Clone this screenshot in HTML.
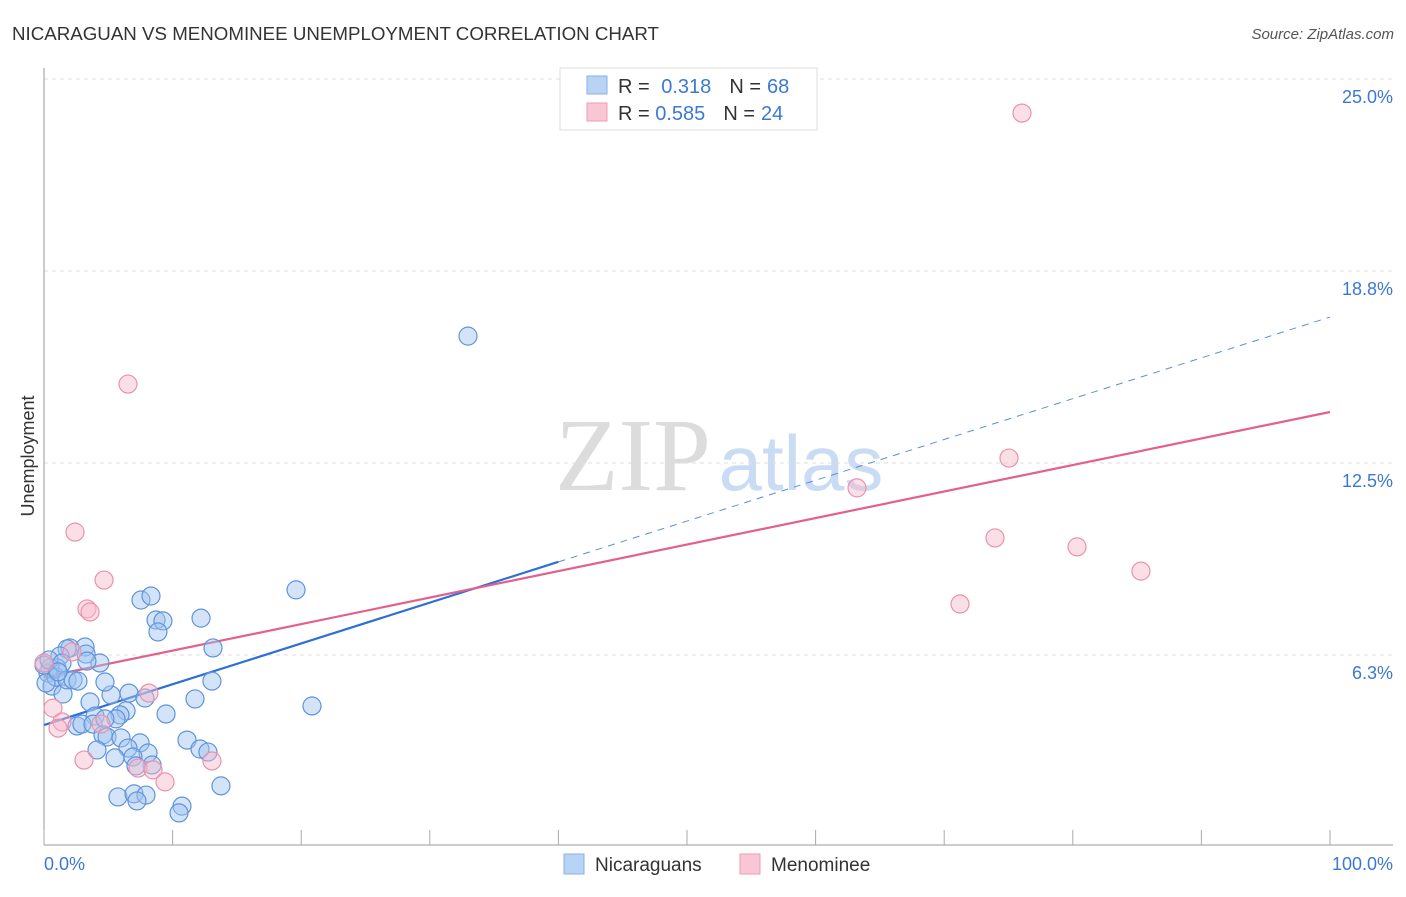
<!DOCTYPE html>
<html><head><meta charset="utf-8"><style>
body{margin:0;background:#fff;font-family:"Liberation Sans",sans-serif;}
</style></head><body>
<svg width="1406" height="892" xmlns="http://www.w3.org/2000/svg" id="chart">
<text x="12" y="40" font-size="18" fill="#333" textLength="647" lengthAdjust="spacingAndGlyphs">NICARAGUAN VS MENOMINEE UNEMPLOYMENT CORRELATION CHART</text>
<text x="1394" y="39" font-size="15" fill="#555" font-style="italic" text-anchor="end">Source: ZipAtlas.com</text>
<g>
<text x="633" y="490" font-size="104" font-family="Liberation Serif,serif" fill="#dcdcdc" text-anchor="middle">ZIP</text>
<text x="801" y="490" font-size="78" fill="#c9dcf3" text-anchor="middle">atlas</text>
</g>
<g id="grid"></g>
<g id="axes"></g>
<g id="lines"></g>
<g id="points"></g>
<text transform="translate(34,456) rotate(-90)" font-size="18" fill="#333" text-anchor="middle">Unemployment</text>
<g>
<rect x="560" y="68" width="257" height="62" fill="#fff" stroke="#ddd"/>
<rect x="587" y="76" width="20" height="18" fill="#b8d3f5" stroke="#8ab0e6"/>
<rect x="587" y="103" width="20" height="18" fill="#f9c6d5" stroke="#ec9cb6"/>
<text x="618" y="93" font-size="20" fill="#333">R = <tspan fill="#3b78d6" dx="6">0.318</tspan><tspan dx="18" fill="#333">N =</tspan><tspan dx="6" fill="#3b78d6">68</tspan></text>
<text x="618" y="120" font-size="20" fill="#333">R = <tspan fill="#3b78d6">0.585</tspan><tspan dx="18" fill="#333">N =</tspan><tspan dx="6" fill="#3b78d6">24</tspan></text>
</g>
<g>
<rect x="564" y="854" width="20" height="20" fill="#b8d3f5" stroke="#8ab0e6"/>
<text x="595" y="871" font-size="19" fill="#333">Nicaraguans</text>
<rect x="740" y="854" width="20" height="20" fill="#f9c6d5" stroke="#ec9cb6"/>
<text x="771" y="871" font-size="19" fill="#333">Menominee</text>
</g>
</svg>
<script>
const yTicks=[6.25,12.5,18.75,25];
const yTickLabels=["6.3%","12.5%","18.8%","25.0%"];
const xTickLabels=["0.0%","100.0%"];
const nicX=[32.97,19.6,20.84,12.21,13.14,13.06,11.74,9.49,11.12,12.13,12.75,13.76,10.73,10.5,7.54,8.32,8.71,9.25,8.86,6.61,7.85,6.38,5.91,5.6,5.21,4.74,4.35,3.19,3.27,2.02,1.79,3.34,1.24,1.01,0.47,0.31,0.62,0.93,1.48,1.79,2.26,2.64,3.58,3.97,2.57,2.95,3.81,4.74,4.59,4.9,5.99,7.47,8.09,6.53,4.12,5.52,6.92,8.4,7.15,5.75,7.0,7.93,7.23,0.16,0,0.39,1.4,1.09];
const nicY=[16.63,8.37,4.59,7.45,6.48,5.4,4.82,4.33,3.48,3.19,3.09,1.99,1.33,1.11,8.04,8.17,7.39,7.36,7.0,5.01,4.85,4.43,4.3,4.17,4.95,5.37,5.99,6.51,6.28,6.48,6.45,6.05,6.22,5.83,5.83,5.66,5.24,5.53,4.98,5.44,5.44,5.4,4.72,4.26,3.94,4.0,4.0,4.17,3.65,3.58,3.55,3.39,3.06,3.22,3.16,2.9,2.93,2.67,2.64,1.63,1.73,1.69,1.5,5.34,5.92,6.09,5.99,5.7];
const menX=[76.05,6.53,2.41,4.67,3.34,3.58,63.22,75.04,73.95,80.33,85.3,71.23,0,2.18,8.16,0.7,1.4,1.09,4.43,3.11,7.31,8.48,9.41,13.06];
const menY=[23.89,15.07,10.25,8.69,7.75,7.65,11.69,12.66,10.06,9.77,8.98,7.91,5.99,6.35,5.01,4.52,4.07,3.87,4.0,2.83,2.57,2.51,2.12,2.8];
const nicLine=[3.97,0.1328]; // intercept, slope
const menLine=[5.53,0.0863];
const nicSolidEnd=40;
const ns="http://www.w3.org/2000/svg";
const X=v=>44+v*12.86, Y=v=>847-v*30.72;
function mk(tag,attrs,parent){const e=document.createElementNS(ns,tag);for(const k in attrs)e.setAttribute(k,attrs[k]);document.getElementById(parent).appendChild(e);return e;}
yTicks.forEach((t,i)=>{
 const g=mk('line',{x1:44,x2:1393,y1:Y(t),y2:Y(t),stroke:'#ddd','stroke-dasharray':'4,4'},'grid');
 
 
 const l=mk('text',{x:1393,y:Y(t)+24,'font-size':18,fill:'#3b78d6','text-anchor':'end'},'grid');
 l.textContent=yTickLabels[i];
 
 
});
const yTop=mk('line',{x1:44,x2:1393,y1:79,y2:79,stroke:'#ddd','stroke-dasharray':'4,4'},'grid');


const ya=mk('line',{x1:44,x2:44,y1:68,y2:845,stroke:'#999'},'axes');


const xa=mk('line',{x1:44,x2:1393,y1:845,y2:845,stroke:'#999'},'axes');


for(let i=0;i<=10;i++){
 const t=mk('line',{x1:X(i*10),x2:X(i*10),y1:830,y2:845,stroke:'#aaa'},'axes');
 
 
}
[[0,'start',44],[100,'end',1393]].forEach((d,i)=>{
 const l=mk('text',{x:d[2],y:870,'font-size':18,fill:'#3b78d6','text-anchor':d[1]},'axes');
 l.textContent=xTickLabels[i];
 
 
});
const f=(c,x)=>c[0]+c[1]*x;
const l1=mk('line',{x1:X(0),y1:Y(f(nicLine,0)),x2:X(nicSolidEnd),y2:Y(f(nicLine,nicSolidEnd)),stroke:'#2e6fd6','stroke-width':2.2},'lines');


const l2=mk('line',{x1:X(nicSolidEnd),y1:Y(f(nicLine,nicSolidEnd)),x2:X(100),y2:Y(f(nicLine,100)),stroke:'#5b8fd8','stroke-width':1,'stroke-dasharray':'7,6'},'lines');


const l3=mk('line',{x1:X(0),y1:Y(f(menLine,0)),x2:X(100),y2:Y(f(menLine,100)),stroke:'#e4608c','stroke-width':2.2},'lines');


nicX.forEach((x,i)=>{
 const c=mk('circle',{cx:X(x),cy:Y(nicY[i]),r:9,fill:'rgba(160,196,240,0.45)',stroke:'#5f93db','stroke-width':1.2},'points');
 
 
});
menX.forEach((x,i)=>{
 const c=mk('circle',{cx:X(x),cy:Y(menY[i]),r:9,fill:'rgba(246,184,202,0.45)',stroke:'#e992ae','stroke-width':1.2},'points');
 
 
});
</script>
</body></html>
